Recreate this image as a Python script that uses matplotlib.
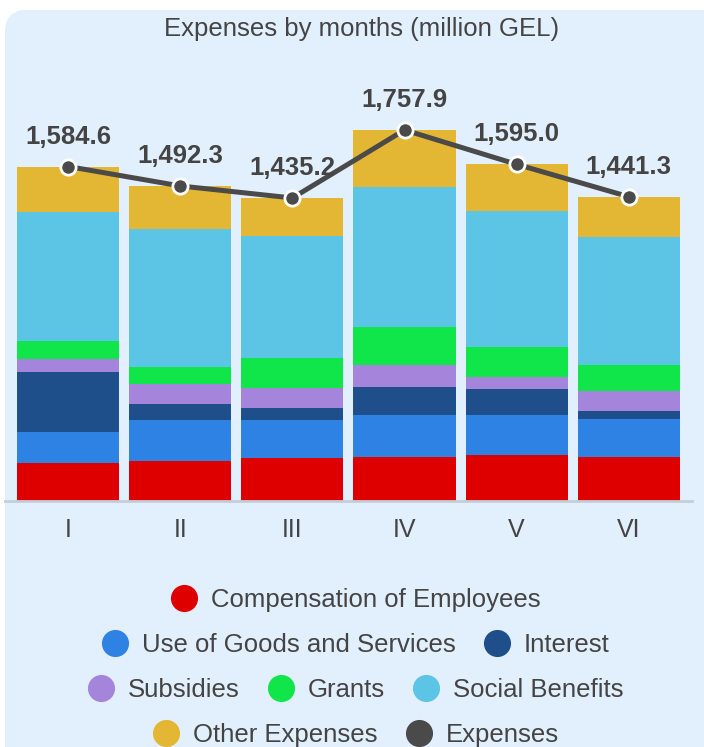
import numpy as np
import matplotlib
matplotlib.use("Agg")
import matplotlib.pyplot as plt
from matplotlib.patches import FancyBboxPatch
from matplotlib.lines import Line2D

plt.rcParams['font.family'] = ['Liberation Sans', 'DejaVu Sans']

# data (million GEL)
months = ['I', 'II', 'III', 'IV', 'V', 'VI']
compensation = [177, 186, 204, 206, 216, 206]
goods_services = [150, 198, 180, 199, 190, 180]
interest = [285, 76, 57, 133, 123, 38]
subsidies = [57, 95, 95, 103, 57, 95]
grants = [87, 76, 142, 182, 142, 123]
social_benefits = [615, 655, 579, 663, 645, 607]
other_expenses = [213.6, 206.3, 178.2, 271.9, 222.0, 192.3]
expenses_total = [1584.6, 1492.3, 1435.2, 1757.9, 1595.0, 1441.3]

series = [
    ('Compensation of Employees', compensation, '#de0000'),
    ('Use of Goods and Services', goods_services, '#2e82e3'),
    ('Interest', interest, '#1e4f8b'),
    ('Subsidies', subsidies, '#a584db'),
    ('Grants', grants, '#10e64a'),
    ('Social Benefits', social_benefits, '#5cc4e5'),
    ('Other Expenses', other_expenses, '#e3b734'),
]
line_color = '#4a4a4a'
text_color = '#444444'
bg_color = '#e2effd'

W, H = 704, 747
fig = plt.figure(figsize=(W / 100, H / 100), dpi=100)
fig.patch.set_facecolor('white')

# rounded panel background
panel = FancyBboxPatch((5 / W, -30 / H), 720 / W, (H - 10 + 30) / H,
                       boxstyle='round,pad=0,rounding_size=0.03',
                       transform=fig.transFigure, facecolor=bg_color,
                       edgecolor='none', zorder=-10)
fig.patches.append(panel)

# axes placement in pixels
ax_left, ax_right = 5.4, 691.5
ax_bottom_px = H - 500.5
ax_top_px = H - 60
ax = fig.add_axes([ax_left / W, ax_bottom_px / H,
                   (ax_right - ax_left) / W, (ax_top_px - ax_bottom_px) / H])
ax.set_facecolor('none')
ax.set_zorder(2)

px_per_unit = 334 / 1584.6
ax.set_ylim(0, (ax_top_px - ax_bottom_px) / px_per_unit)
ax.set_xlim(-0.56, len(months) - 1 + 0.56)

x = np.arange(len(months))
bottom = np.zeros(len(months))
handles = []
for name, vals, color in series:
    ax.bar(x, vals, width=0.91, bottom=bottom, color=color, zorder=2)
    bottom += np.array(vals)
    handles.append(Line2D([], [], linestyle='none', marker='o', markersize=18.5,
                          markerfacecolor=color, markeredgecolor=color, label=name))

ax.plot(x, expenses_total, color=line_color, linewidth=3.6, zorder=4,
        marker='o', markersize=11, markerfacecolor=line_color,
        markeredgecolor='white', markeredgewidth=2)
handles.append(Line2D([], [], linestyle='none', marker='o', markersize=18.5,
                      markerfacecolor=line_color, markeredgecolor=line_color,
                      label='Expenses'))

for xi, v in zip(x, expenses_total):
    ax.annotate(f'{v:,.1f}', (xi, v), xytext=(0, 21.5), textcoords='offset points',
                ha='center', va='center', fontsize=18.5, fontweight='bold',
                color=text_color, zorder=5, annotation_clip=False)

for s in ['top', 'left', 'right']:
    ax.spines[s].set_visible(False)
ax.spines['bottom'].set_color('#c5ced8')
ax.spines['bottom'].set_linewidth(2)
ax.set_yticks([])
ax.set_xticks(x)
ax.set_xticklabels(months, fontsize=18, color=text_color)
ax.tick_params(axis='x', length=0, pad=12.5)

fig.text(362 / W, 1 - 29 / H, 'Expenses by months (million GEL)', ha='center', va='center',
         fontsize=18.5, color=text_color)

# legend, centred rows like the reference
rows = [[0], [1, 2], [3, 4, 5], [6, 7]]
row_y = [600, 645, 690, 735]
for idx, yy in zip(rows, row_y):
    leg = fig.legend([handles[i] for i in idx], [handles[i].get_label() for i in idx],
                     loc='center', bbox_to_anchor=(356 / W, 1 - yy / H), ncol=len(idx),
                     frameon=False, fontsize=18.5, handletextpad=0.55,
                     columnspacing=1.1, handlelength=1.0, borderpad=0, borderaxespad=0)
    for t in leg.get_texts():
        t.set_color(text_color)

fig.savefig('out.png', dpi=100, facecolor=fig.get_facecolor())
